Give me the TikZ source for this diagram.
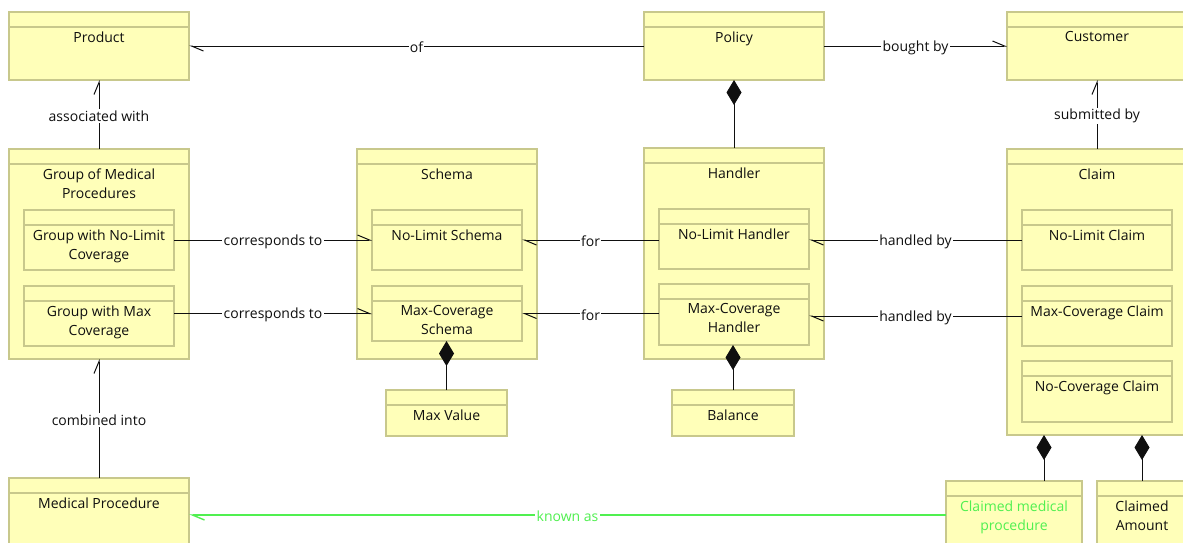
\documentclass[tikz,border=0pt]{standalone}
\usepackage{fontspec}
\setmainfont{Open Sans}
\usetikzlibrary{arrows.meta,calc}
\definecolor{boxfill}{RGB}{255,255,185}
\definecolor{boxdraw}{RGB}{200,200,140}
\definecolor{ink}{RGB}{15,15,15}
\definecolor{grn}{RGB}{80,240,80}
\tikzset{
  ubox/.style={draw=boxdraw, fill=boxfill, line width=1.2pt, inner sep=0pt, outer sep=0pt, rectangle},
  hdr/.style={draw=boxdraw, line width=1.2pt},
  utext/.style={text=ink, font=\fontsize{14}{19}\selectfont, align=center, inner sep=0pt, anchor=north},
  lbl/.style={fill=white, inner sep=1.2pt, yshift=-1.5pt, text=ink, font=\fontsize{14}{16}\selectfont},
  assoc/.style={draw=ink, line width=1pt, -{Straight Barb[left,length=12pt,width=10pt,line width=1pt]}},
  greenassoc/.style={draw=grn, line width=1.6pt, -{Straight Barb[left,length=12pt,width=10pt,line width=1.4pt]}},
  comp/.style={draw=ink, line width=1pt, -{Diamond[length=25pt,width=15pt]}}
}
\newcommand\ubox[7][]{%
  \node[ubox, minimum width={#5pt-#3pt}, minimum height={#6pt-#4pt}] (#2) at ({(#3+#5)/2},{(#4+#6)/2}) {};
  \draw[hdr] ([yshift=-15pt]#2.north west) -- ([yshift=-15pt]#2.north east);
  \node[utext,#1] (#2-t) at ([yshift=-19.5pt]#2.north) {#7};
}
\begin{document}
\begin{tikzpicture}[x=1pt,y=-1pt]
\useasboundingbox (0,0) rectangle (1183,542);
\clip (0,0) rectangle (1183,542);
\fill[white] (0,0) rectangle (1183,542);
% boxes
\ubox{product}{9}{12}{189}{80}{Product}
\ubox{policy}{644}{12}{824}{80}{Policy}
\ubox{customer}{1007}{12}{1187}{80}{Customer}
\ubox{group}{9}{149}{189}{359}{Group of Medical\\Procedures}
\ubox{g1}{24}{210}{174}{270}{Group with No-Limit\\Coverage}
\ubox{g2}{24}{286}{174}{346}{Group with Max\\Coverage}
\ubox{schema}{357}{149}{537}{359}{Schema}
\ubox{s1}{372}{210}{522}{270}{No-Limit Schema}
\ubox{s2}{372}{286}{522}{341}{Max-Coverage\\Schema}
\ubox{maxvalue}{386}{390}{507}{436}{Max Value}
\ubox{handler}{644}{148}{824}{359}{Handler}
\ubox{h1}{659}{209}{809}{269}{No-Limit Handler}
\ubox{h2}{659}{284}{809}{345}{Max-Coverage\\Handler}
\ubox{balance}{672}{390}{794}{436}{Balance}
\ubox{claim}{1007}{149}{1187}{435}{Claim}
\ubox{c1}{1022}{210}{1172}{270}{No-Limit Claim}
\ubox{c2}{1022}{286}{1172}{346}{Max-Coverage Claim}
\ubox{c3}{1022}{361}{1172}{422}{No-Coverage Claim}
\ubox{mp}{9}{478}{189}{546}{Medical Procedure}
\ubox[text=grn]{cmp}{946}{481}{1082}{549}{Claimed medical\\procedure}
\ubox{camount}{1097}{481}{1187}{549}{Claimed\\Amount}
% connectors
\draw[assoc] (policy.west) -- node[lbl]{of} (product.east);
\draw[assoc] (policy.east) -- node[lbl]{bought by} (customer.west);
\draw[comp] (handler.north) -- (handler.north |- policy.south);
\draw[assoc] (group.north) -- node[lbl]{associated with} (product.south);
\draw[assoc] (claim.north) -- node[lbl]{submitted by} (customer.south);
\draw[assoc] (g1.east) -- node[lbl]{corresponds to} (s1.west);
\draw[assoc] (g2.east |- s2.west) -- node[lbl]{corresponds to} (s2.west);
\draw[assoc] (h1.west |- s1.east) -- node[lbl]{for} (s1.east);
\draw[assoc] (h2.west |- s2.east) -- node[lbl]{for} (s2.east);
\draw[assoc] (c1.west) -- node[lbl]{handled by} (c1.west -| h1.east);
\draw[assoc] (c2.west) -- node[lbl]{handled by} (c2.west -| h2.east);
\draw[comp] (maxvalue.north) -- (maxvalue.north |- s2.south);
\draw[comp] (balance.north) -- (balance.north |- h2.south);
\draw[comp] ([xshift=30pt]cmp.north) -- ([xshift=30pt]cmp.north |- claim.south);
\draw[comp] (camount.north) -- (camount.north |- claim.south);
\draw[assoc] (mp.north) -- node[lbl]{combined into} (group.south);
\draw[greenassoc] (cmp.west) -- node[lbl, text=grn]{known as} (cmp.west -| mp.east);
\end{tikzpicture}
\end{document}
